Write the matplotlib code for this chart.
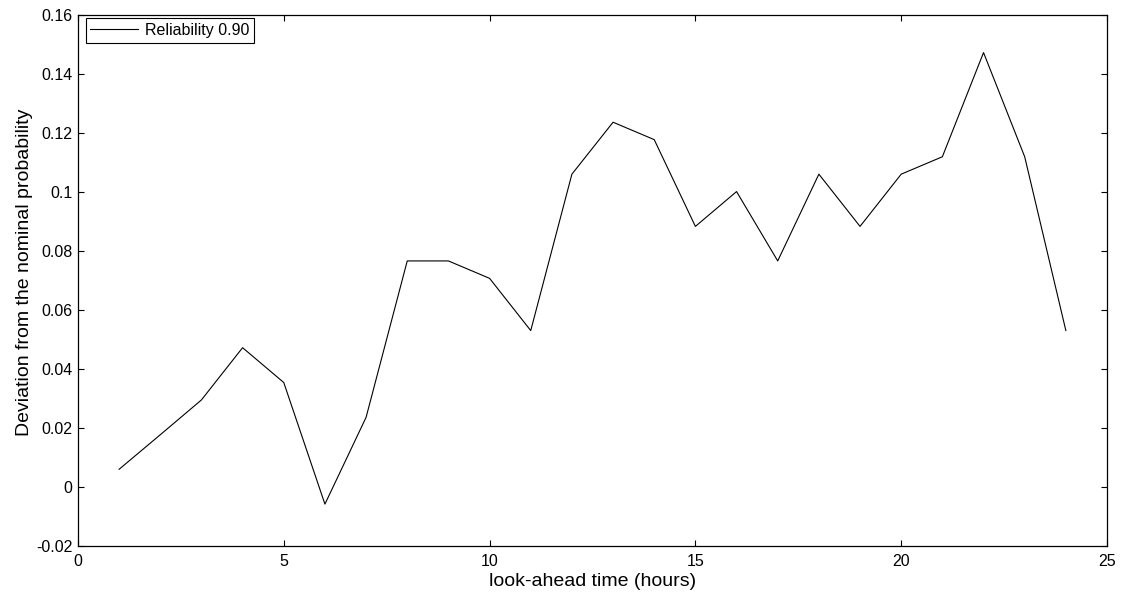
import matplotlib
matplotlib.use("Agg")
import matplotlib.pyplot as plt

plt.rcParams['font.family'] = ['Liberation Sans', 'DejaVu Sans']
plt.rcParams['font.size'] = 11.5

# look-ahead horizon (hours) and deviation from nominal coverage
hours = list(range(1, 25))
deviation = [0.0059, 0.0176, 0.0294, 0.0471, 0.0353, -0.0059, 0.0235, 0.0765,
             0.0765, 0.0706, 0.0529, 0.1059, 0.1235, 0.1176, 0.0882, 0.1000,
             0.0765, 0.1059, 0.0882, 0.1059, 0.1118, 0.1471, 0.1118, 0.0529]
series_label = "Reliability 0.90"
xticks = [0, 5, 10, 15, 20, 25]
yticks = [-0.02, 0, 0.02, 0.04, 0.06, 0.08, 0.1, 0.12, 0.14, 0.16]
ytick_labels = ["-0.02", "0", "0.02", "0.04", "0.06", "0.08", "0.1", "0.12", "0.14", "0.16"]

fig = plt.figure(figsize=(11.28, 5.97), dpi=100)
ax = fig.add_axes([0.0691, 0.0859, 0.9123, 0.8898])

ax.plot(hours, deviation, color='black', linewidth=0.8, label=series_label)

ax.set_xlim(0, 25)
ax.set_ylim(-0.02, 0.16)
ax.set_xticks(xticks)
ax.set_xticklabels([str(t) for t in xticks])
ax.set_yticks(yticks)
ax.set_yticklabels(ytick_labels)

ax.tick_params(direction='in', top=True, right=True, length=4, width=0.8,
               labelsize=11.5)
ax.tick_params(axis='x', pad=6)
ax.tick_params(axis='y', pad=4)
for sp in ax.spines.values():
    sp.set_linewidth(0.9)
    sp.set_color('black')

ax.set_xlabel("look-ahead time (hours)", fontsize=14, labelpad=3)
ax.set_ylabel("Deviation from the nominal probability", fontsize=14, labelpad=3)
ax.yaxis.set_label_coords(-0.0435, 0.515)

leg = ax.legend(loc='upper left', bbox_to_anchor=(0.0075, 0.993), fancybox=False,
                edgecolor='black', framealpha=1, fontsize=11.5, handlelength=3.0,
                handletextpad=0.4, borderpad=0.3, borderaxespad=0.0)
leg.get_frame().set_linewidth(0.8)

fig.savefig("out.png", dpi=100)
